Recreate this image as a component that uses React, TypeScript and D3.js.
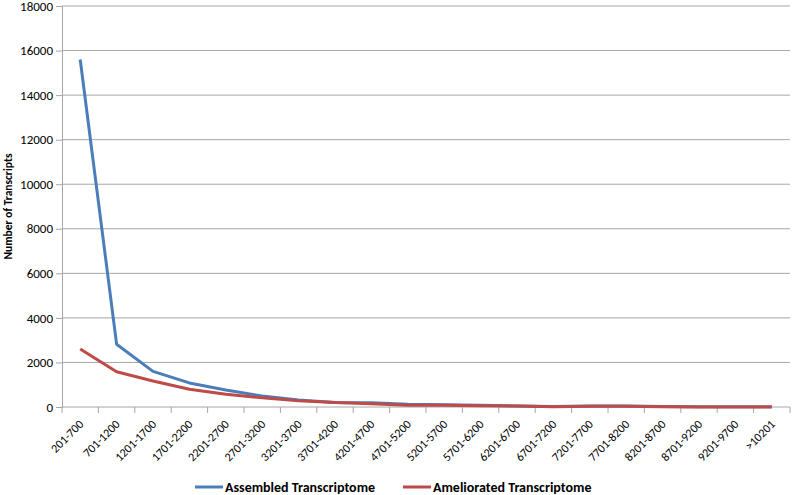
import React, { useEffect, useRef } from 'react';
import * as d3 from 'd3';

// length bins (x axis)
const categories = [
  '201-700', '701-1200', '1201-1700', '1701-2200', '2201-2700', '2701-3200',
  '3201-3700', '3701-4200', '4201-4700', '4701-5200', '5201-5700', '5701-6200',
  '6201-6700', '6701-7200', '7201-7700', '7701-8200', '8201-8700', '8701-9200',
  '9201-9700', '>10201',
];

const assembled = [15600, 2820, 1600, 1080, 760, 490, 320, 200, 190, 120, 100, 80, 50, 20, 50, 50, 20, 10, 10, 10];
const ameliorated = [2600, 1580, 1170, 800, 570, 410, 280, 200, 150, 80, 80, 60, 40, 10, 30, 30, 10, 5, 5, 5];

const yTicks = [0, 2000, 4000, 6000, 8000, 10000, 12000, 14000, 16000, 18000];

const series = [
  { name: 'Assembled Transcriptome', values: assembled, color: '#4a7ebb' },
  { name: 'Ameliorated Transcriptome', values: ameliorated, color: '#be4b48' },
];

const App = () => {
  const svgRef = useRef(null);
  const width = 793;
  const height = 495;

  useEffect(() => {
    const svg = d3.select(svgRef.current);
    svg.selectAll('*').remove();

    const margin = { top: 6, right: 3, bottom: 88, left: 62 };
    const font = 'Carlito, "Liberation Sans", Arial, sans-serif';

    const x = d3.scaleBand()
      .domain(categories)
      .range([margin.left, width - margin.right]);

    const y = d3.scaleLinear()
      .domain([0, 18000])
      .range([height - margin.bottom, margin.top]);

    // gridlines
    svg.append('g')
      .selectAll('line')
      .data(yTicks.filter(d => d > 0))
      .enter()
      .append('line')
      .attr('x1', margin.left)
      .attr('x2', width - margin.right)
      .attr('y1', d => y(d))
      .attr('y2', d => y(d))
      .attr('stroke', '#a6a6a6')
      .attr('stroke-width', 1);

    // y axis
    const yAxis = svg.append('g')
      .attr('transform', `translate(${margin.left},0)`)
      .call(d3.axisLeft(y).tickValues(yTicks).tickSize(6).tickPadding(3).tickFormat(d3.format('d')));
    yAxis.select('.domain').attr('stroke', '#a6a6a6');
    yAxis.selectAll('line').attr('stroke', '#a6a6a6');
    yAxis.selectAll('text')
      .attr('font-family', font)
      .attr('font-size', '13px')
      .attr('fill', '#000');

    // x axis: ticks at band edges
    const xAxisG = svg.append('g')
      .attr('transform', `translate(0,${y(0)})`);
    xAxisG.append('line')
      .attr('x1', margin.left)
      .attr('x2', width - margin.right)
      .attr('stroke', '#a6a6a6');
    const edges = categories.map(c => x(c)).concat([x.range()[1]]);
    xAxisG.selectAll('.tick')
      .data(edges)
      .enter()
      .append('line')
      .attr('x1', d => d)
      .attr('x2', d => d)
      .attr('y1', 0)
      .attr('y2', 6)
      .attr('stroke', '#a6a6a6');
    xAxisG.selectAll('.lbl')
      .data(categories)
      .enter()
      .append('text')
      .attr('text-anchor', 'end')
      .attr('font-family', font)
      .attr('font-size', '12px')
      .attr('fill', '#000')
      .attr('transform', d => `translate(${x(d) + x.bandwidth() / 2 + 4},${18}) rotate(-45)`)
      .text(d => d);

    // y axis title
    svg.append('text')
      .attr('text-anchor', 'middle')
      .attr('transform', `translate(12,${(margin.top + y(0)) / 2}) rotate(-90)`)
      .attr('font-family', font)
      .attr('font-size', '11.5px')
      .attr('font-weight', 'bold')
      .text('Number of Transcripts');

    // lines
    const line = d3.line()
      .x((d, i) => x(categories[i]) + x.bandwidth() / 2)
      .y(d => y(d));

    series.forEach(s => {
      svg.append('path')
        .datum(s.values)
        .attr('fill', 'none')
        .attr('stroke', s.color)
        .attr('stroke-width', 3)
        .attr('stroke-linejoin', 'round')
        .attr('d', line);
    });

    // legend
    const legendX = [195, 403];
    const legendY = 487;
    series.forEach((s, i) => {
      const g = svg.append('g').attr('transform', `translate(${legendX[i]},${legendY})`);
      g.append('line')
        .attr('x1', 0).attr('x2', 28)
        .attr('stroke', s.color)
        .attr('stroke-width', 3);
      g.append('text')
        .attr('x', 30)
        .attr('dy', '0.35em')
        .attr('font-family', font)
        .attr('font-size', '14px')
        .attr('font-weight', 'bold')
        .text(s.name);
    });
  }, []);

  return (
    <svg ref={svgRef} width={width} height={height}
      style={{ position: 'absolute', left: 0, top: 0, background: '#fff' }} />
  );
};

export default App;
